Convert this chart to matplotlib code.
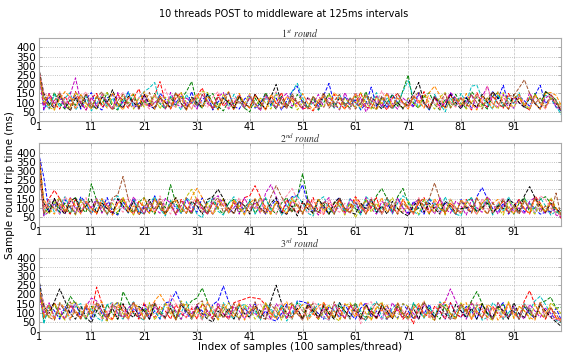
import matplotlib.pyplot as plt

plt.rcParams['mathtext.fontset'] = 'stix'

samples = list(range(1, 101))
threads = ['t0', 't1', 't2', 't3', 't4', 't5', 't6', 't7', 't8', 't9']
colors = ['#0000ff', '#008000', '#ff0000', '#00bfbf', '#bf00bf',
          '#bfbf00', '#000000', '#ff88aa', '#ff8800', '#a0522d']
round_titles = [r'$1^{st}\ round$', r'$2^{nd}\ round$', r'$3^{rd}\ round$']
y_ticks = [0, 50, 100, 150, 200, 250, 300, 350, 400]
x_ticks = [1, 11, 21, 31, 41, 51, 61, 71, 81, 91]

# ---- round 1 (ms) ----
r1_t0 = [300, 60, 130, 75, 150, 70, 110, 140, 65, 120,
         155, 80, 60, 125, 145, 75, 105, 160, 70, 95,
         140, 85, 65, 150, 120, 70, 100, 135, 80, 160,
         75, 115, 145, 60, 105, 130, 155, 80, 65, 120,
         140, 70, 95, 150, 85, 125, 60, 110, 160, 190,
         95, 70, 130, 80, 140, 205, 90, 65, 135, 85,
         115, 60, 95, 185, 80, 130, 70, 145, 100, 65,
         125, 80, 155, 95, 60, 135, 105, 75, 150, 110,
         80, 130, 65, 145, 95, 75, 160, 120, 195, 90,
         70, 135, 110, 80, 140, 195, 95, 125, 75, 55]
r1_t1 = [290, 130, 80, 155, 95, 65, 120, 85, 145, 100,
         70, 135, 90, 155, 75, 60, 125, 95, 145, 70,
         110, 80, 150, 95, 65, 130, 85, 120, 160, 215,
         95, 70, 125, 150, 80, 55, 110, 95, 135, 70,
         50, 125, 80, 155, 100, 65, 135, 90, 70, 145,
         110, 75, 125, 60, 100, 150, 80, 130, 95, 70,
         135, 90, 160, 75, 65, 125, 100, 145, 80, 165,
         250, 95, 70, 130, 155, 90, 60, 120, 80, 145,
         95, 70, 160, 125, 90, 65, 135, 155, 80, 100,
         125, 145, 75, 65, 150, 95, 160, 140, 115, 45]
r1_t2 = [305, 85, 150, 95, 65, 135, 80, 160, 100, 60,
         125, 150, 75, 105, 65, 145, 110, 70, 125, 175,
         95, 80, 140, 215, 100, 65, 125, 155, 75, 100,
         135, 180, 95, 70, 145, 80, 115, 60, 130, 95,
         70, 145, 100, 60, 135, 95, 155, 75, 125, 100,
         65, 75, 55, 100, 130, 80, 145, 95, 65, 125,
         100, 155, 75, 70, 135, 95, 60, 125, 150, 100,
         80, 135, 95, 160, 75, 130, 65, 100, 145, 80,
         125, 95, 60, 155, 100, 75, 135, 95, 70, 150,
         100, 125, 80, 60, 145, 95, 70, 125, 95, 75]
r1_t3 = [280, 100, 65, 145, 75, 125, 155, 60, 100, 135,
         55, 95, 145, 75, 125, 65, 100, 155, 80, 125,
         160, 180, 210, 95, 70, 135, 100, 60, 145, 95,
         125, 75, 155, 95, 65, 130, 80, 145, 100, 70,
         135, 95, 60, 125, 80, 155, 100, 70, 160, 205,
         125, 75, 100, 60, 135, 95, 70, 145, 80, 125,
         100, 65, 135, 95, 155, 75, 125, 65, 100, 160,
         220, 125, 75, 100, 60, 145, 95, 50, 125, 80,
         150, 100, 190, 195, 125, 95, 65, 145, 80, 125,
         95, 155, 75, 130, 100, 65, 140, 125, 80, 35]
r1_t4 = [270, 65, 150, 95, 125, 75, 145, 235, 100, 60,
         130, 80, 145, 95, 65, 155, 75, 125, 100, 65,
         140, 75, 100, 130, 65, 155, 95, 75, 125, 100,
         65, 145, 95, 75, 130, 155, 65, 100, 145, 75,
         125, 95, 55, 135, 100, 70, 125, 150, 80, 100,
         65, 130, 95, 145, 75, 125, 100, 60, 155, 95,
         75, 130, 50, 100, 135, 75, 155, 95, 65, 125,
         100, 75, 145, 95, 65, 130, 80, 100, 155, 125,
         75, 100, 145, 65, 130, 190, 95, 75, 145, 65,
         130, 100, 75, 155, 95, 65, 125, 145, 75, 65]
r1_t5 = [260, 125, 75, 60, 145, 100, 70, 155, 125, 75,
         100, 65, 130, 155, 95, 75, 145, 100, 65, 125,
         75, 100, 145, 65, 130, 95, 75, 155, 100, 65,
         125, 160, 155, 95, 75, 145, 100, 65, 130, 95,
         150, 75, 125, 100, 65, 145, 95, 75, 125, 60,
         100, 70, 135, 95, 75, 145, 100, 65, 125, 95,
         75, 155, 100, 65, 130, 95, 145, 75, 100, 65,
         125, 95, 75, 145, 100, 65, 130, 155, 75, 100,
         125, 65, 100, 145, 75, 130, 95, 65, 155, 100,
         75, 125, 95, 65, 145, 100, 75, 125, 95, 85]
r1_t6 = [295, 150, 95, 70, 135, 100, 55, 125, 75, 145,
         95, 65, 130, 100, 170, 95, 70, 135, 100, 75,
         145, 95, 65, 125, 100, 75, 155, 95, 65, 130,
         100, 75, 145, 95, 65, 125, 100, 70, 135, 95,
         75, 145, 100, 65, 130, 200, 95, 70, 135, 100,
         75, 125, 95, 65, 145, 100, 75, 125, 95, 65,
         155, 100, 75, 130, 95, 65, 100, 75, 100, 70,
         95, 150, 210, 100, 65, 130, 95, 75, 145, 100,
         65, 125, 95, 75, 145, 100, 160, 125, 95, 65,
         145, 100, 75, 125, 95, 65, 160, 140, 95, 60]
r1_t7 = [285, 155, 125, 75, 160, 95, 140, 65, 125, 160,
         95, 75, 145, 100, 65, 125, 155, 95, 75, 130,
         100, 65, 145, 100, 175, 95, 75, 125, 100, 65,
         145, 95, 75, 130, 160, 95, 65, 125, 100, 75,
         145, 95, 65, 130, 100, 160, 95, 70, 135, 100,
         75, 125, 95, 65, 145, 100, 75, 130, 95, 65,
         155, 100, 75, 125, 95, 165, 100, 75, 130, 95,
         65, 145, 100, 75, 125, 95, 65, 145, 100, 75,
         130, 95, 65, 145, 100, 190, 95, 75, 125, 100,
         65, 145, 95, 75, 130, 100, 65, 145, 95, 70]
r1_t8 = [275, 100, 145, 60, 120, 160, 130, 70, 145, 95,
         65, 135, 110, 70, 155, 95, 60, 125, 150, 80,
         160, 110, 65, 135, 95, 70, 150, 125, 60, 110,
         145, 75, 135, 100, 60, 125, 160, 80, 150, 95,
         70, 135, 110, 60, 145, 100, 70, 135, 110, 80,
         150, 95, 60, 115, 135, 80, 155, 125, 65, 100,
         145, 70, 135, 95, 60, 115, 150, 80, 125, 100,
         65, 135, 110, 70, 155, 190, 140, 65, 110, 125,
         80, 150, 95, 60, 135, 110, 70, 160, 100, 65,
         125, 145, 80, 135, 95, 65, 150, 155, 140, 85]
r1_t9 = [265, 135, 70, 110, 155, 80, 60, 135, 95, 150,
         70, 125, 160, 95, 60, 110, 145, 80, 125, 65,
         100, 155, 75, 135, 70, 110, 150, 95, 60, 125,
         80, 145, 110, 65, 130, 95, 155, 80, 110, 70,
         135, 95, 65, 145, 110, 75, 125, 70, 150, 100,
         110, 65, 135, 95, 155, 70, 110, 145, 80, 125,
         65, 100, 145, 110, 70, 135, 95, 65, 150, 100,
         80, 125, 160, 95, 65, 135, 100, 150, 70, 110,
         125, 80, 145, 100, 65, 125, 155, 95, 75, 135,
         140, 180, 225, 150, 95, 125, 80, 145, 110, 55]

# ---- round 2 (ms) ----
r2_t0 = [400, 265, 75, 125, 65, 145, 100, 75, 160, 125,
         65, 145, 95, 155, 75, 60, 130, 95, 150, 70,
         110, 80, 165, 95, 65, 135, 100, 70, 145, 110,
         75, 155, 95, 65, 125, 145, 70, 100, 135, 75,
         125, 95, 155, 65, 110, 145, 75, 125, 160, 165,
         225, 125, 75, 145, 95, 65, 130, 155, 75, 100,
         135, 70, 110, 145, 95, 65, 125, 75, 155, 100,
         70, 135, 95, 65, 145, 110, 75, 125, 95, 65,
         145, 100, 75, 160, 210, 150, 95, 75, 125, 65,
         100, 145, 75, 125, 95, 65, 75, 80, 95, 70]
r2_t1 = [380, 65, 100, 145, 75, 125, 65, 155, 95, 75,
         230, 140, 75, 125, 95, 65, 145, 100, 75, 130,
         155, 95, 65, 135, 100, 225, 125, 75, 100, 65,
         145, 110, 75, 155, 95, 65, 125, 145, 75, 100,
         135, 70, 110, 150, 95, 65, 125, 155, 75, 160,
         285, 145, 95, 75, 125, 65, 100, 145, 75, 125,
         95, 65, 145, 100, 165, 205, 150, 75, 160, 205,
         125, 75, 100, 145, 65, 125, 95, 75, 145, 100,
         65, 125, 155, 75, 100, 135, 70, 110, 145, 95,
         65, 125, 155, 75, 100, 145, 160, 125, 75, 85]
r2_t2 = [420, 95, 150, 195, 150, 95, 65, 145, 75, 125,
         100, 65, 145, 95, 75, 125, 155, 95, 65, 135,
         100, 70, 150, 95, 75, 125, 65, 145, 100, 75,
         155, 95, 65, 125, 100, 145, 75, 125, 95, 155,
         165, 220, 160, 95, 75, 125, 65, 145, 100, 75,
         125, 95, 155, 75, 65, 125, 100, 145, 75, 100,
         160, 125, 75, 100, 155, 65, 125, 95, 75, 145,
         100, 65, 125, 155, 75, 100, 145, 65, 125, 95,
         75, 145, 100, 65, 125, 155, 75, 100, 135, 70,
         110, 145, 95, 65, 165, 125, 75, 145, 95, 40]
r2_t3 = [370, 60, 140, 75, 110, 160, 95, 65, 150, 125,
         70, 100, 150, 60, 135, 165, 110, 70, 145, 80,
         65, 125, 160, 95, 55, 140, 110, 70, 155, 125,
         65, 45, 130, 150, 80, 60, 125, 160, 95, 70,
         145, 65, 110, 155, 80, 135, 60, 100, 150, 165,
         125, 70, 55, 140, 160, 95, 65, 125, 80, 150,
         110, 60, 160, 135, 70, 100, 155, 65, 125, 165,
         140, 80, 60, 110, 150, 125, 70, 160, 95, 65,
         55, 135, 155, 80, 110, 145, 60, 125, 80, 160,
         95, 65, 145, 125, 70, 155, 110, 60, 80, 60]
r2_t4 = [350, 55, 80, 145, 110, 65, 155, 95, 70, 135,
         100, 150, 70, 125, 60, 145, 100, 75, 160, 110,
         65, 135, 95, 70, 150, 125, 60, 110, 155, 75,
         135, 95, 65, 145, 165, 110, 75, 135, 65, 155,
         95, 125, 70, 180, 225, 160, 95, 65, 135, 110,
         70, 145, 100, 60, 125, 155, 75, 110, 65, 145,
         125, 75, 155, 95, 65, 135, 110, 70, 150, 100,
         60, 125, 145, 75, 110, 65, 155, 95, 70, 135,
         110, 60, 145, 100, 75, 160, 125, 65, 110, 145,
         75, 100, 65, 135, 155, 95, 70, 125, 60, 50]
r2_t5 = [330, 95, 65, 125, 155, 75, 110, 60, 135, 100,
         70, 145, 110, 65, 125, 75, 155, 95, 60, 135,
         110, 70, 145, 100, 65, 125, 155, 75, 160, 200,
         140, 75, 125, 65, 100, 150, 70, 135, 110, 60,
         125, 95, 160, 75, 65, 135, 100, 70, 145, 110,
         75, 125, 65, 150, 95, 70, 135, 110, 60, 125,
         45, 100, 145, 75, 125, 65, 110, 155, 95, 70,
         135, 100, 65, 145, 110, 75, 125, 60, 150, 95,
         70, 135, 110, 65, 125, 155, 75, 100, 60, 135,
         110, 70, 145, 95, 65, 125, 75, 155, 100, 60]
r2_t6 = [410, 125, 75, 150, 95, 65, 135, 155, 75, 110,
         145, 70, 125, 95, 65, 150, 110, 75, 135, 60,
         100, 145, 75, 125, 65, 110, 155, 95, 70, 135,
         110, 65, 145, 160, 200, 150, 95, 70, 135, 110,
         65, 145, 95, 75, 125, 155, 75, 65, 110, 55,
         135, 95, 70, 145, 110, 65, 125, 155, 95, 75,
         65, 125, 95, 145, 75, 110, 65, 135, 95, 70,
         55, 110, 145, 75, 125, 95, 65, 135, 110, 75,
         95, 100, 110, 80, 100, 125, 70, 110, 95, 145,
         125, 75, 165, 215, 155, 110, 75, 125, 95, 65]
r2_t7 = [360, 75, 145, 95, 65, 160, 125, 75, 110, 155,
         70, 135, 95, 65, 145, 110, 75, 155, 125, 65,
         100, 135, 75, 165, 110, 65, 145, 95, 75, 125,
         155, 75, 110, 65, 145, 125, 75, 100, 155, 65,
         125, 95, 145, 75, 110, 65, 135, 165, 205, 145,
         95, 70, 135, 110, 65, 150, 95, 75, 125, 65,
         145, 110, 75, 155, 95, 65, 125, 100, 145, 75,
         110, 65, 155, 95, 75, 135, 65, 110, 145, 95,
         70, 135, 110, 65, 150, 95, 75, 125, 155, 75,
         100, 65, 135, 110, 75, 165, 145, 95, 70, 55]
r2_t8 = [390, 145, 95, 65, 125, 75, 155, 110, 65, 135,
         95, 70, 150, 110, 60, 125, 145, 75, 110, 65,
         155, 95, 75, 135, 65, 110, 145, 95, 70, 160,
         205, 155, 95, 65, 135, 110, 75, 145, 95, 65,
         125, 150, 75, 110, 65, 135, 95, 70, 155, 110,
         65, 125, 95, 145, 75, 110, 65, 135, 95, 75,
         150, 110, 65, 125, 95, 155, 75, 110, 65, 145,
         95, 70, 135, 110, 65, 150, 95, 75, 125, 65,
         145, 110, 75, 155, 95, 65, 125, 145, 75, 110,
         65, 135, 95, 70, 145, 110, 75, 125, 95, 65]
r2_t9 = [340, 65, 125, 95, 150, 75, 110, 65, 145, 95,
         75, 135, 110, 65, 155, 170, 270, 145, 75, 110,
         65, 125, 95, 150, 75, 110, 65, 135, 95, 70,
         145, 110, 65, 125, 155, 75, 100, 65, 135, 110,
         75, 145, 95, 65, 160, 220, 160, 110, 75, 125,
         65, 145, 95, 75, 135, 110, 65, 150, 95, 70,
         125, 110, 65, 145, 95, 75, 155, 110, 65, 125,
         95, 75, 145, 110, 150, 235, 145, 75, 110, 65,
         135, 95, 70, 150, 110, 65, 125, 95, 145, 75,
         110, 65, 135, 95, 155, 75, 110, 70, 180, 45]

# ---- round 3 (ms) ----
r3_t0 = [300, 75, 145, 110, 65, 135, 95, 155, 75, 125,
         65, 145, 95, 75, 135, 155, 110, 65, 125, 95,
         145, 75, 110, 65, 155, 160, 215, 150, 95, 65,
         135, 110, 75, 145, 165, 245, 160, 95, 65, 125,
         95, 150, 75, 110, 65, 55, 95, 145, 75, 165,
         160, 150, 125, 95, 65, 135, 110, 75, 145, 95,
         65, 125, 155, 75, 110, 65, 135, 95, 70, 150,
         110, 65, 125, 95, 145, 75, 110, 65, 155, 95,
         75, 135, 110, 65, 145, 95, 75, 125, 155, 75,
         110, 65, 135, 95, 70, 150, 110, 75, 125, 60]
r3_t1 = [280, 50, 125, 150, 75, 110, 190, 150, 95, 65,
         135, 110, 75, 145, 95, 65, 215, 160, 95, 75,
         125, 65, 145, 110, 75, 155, 95, 65, 125, 165,
         180, 235, 160, 95, 75, 135, 65, 110, 145, 95,
         75, 125, 65, 150, 110, 75, 135, 95, 65, 155,
         110, 75, 125, 65, 145, 95, 75, 135, 110, 65,
         155, 95, 75, 125, 65, 145, 110, 75, 135, 95,
         65, 150, 110, 75, 125, 95, 65, 145, 95, 75,
         135, 110, 165, 215, 150, 95, 65, 125, 145, 75,
         110, 65, 135, 95, 75, 155, 165, 185, 125, 130]
r3_t2 = [250, 75, 110, 155, 95, 65, 135, 110, 75, 145,
         95, 240, 150, 95, 65, 125, 145, 75, 110, 65,
         155, 95, 75, 135, 110, 65, 145, 95, 75, 125,
         65, 150, 110, 75, 135, 95, 65, 155, 165, 175,
         185, 180, 175, 140, 95, 75, 125, 65, 145, 110,
         75, 135, 95, 65, 155, 110, 75, 125, 65, 145,
         95, 75, 135, 110, 65, 150, 95, 75, 125, 65,
         100, 40, 145, 95, 75, 135, 110, 65, 155, 95,
         75, 125, 65, 145, 110, 75, 135, 95, 65, 155,
         95, 75, 165, 220, 145, 95, 65, 125, 75, 65]
r3_t3 = [260, 40, 145, 75, 155, 110, 60, 135, 150, 70,
         125, 75, 55, 145, 155, 95, 65, 125, 160, 75,
         60, 145, 110, 70, 150, 135, 65, 100, 160, 75,
         125, 60, 150, 110, 70, 155, 95, 65, 135, 145,
         75, 110, 60, 150, 125, 70, 145, 55, 100, 160,
         135, 65, 110, 150, 75, 60, 125, 155, 95, 70,
         145, 110, 55, 135, 160, 75, 65, 125, 150, 95,
         60, 155, 110, 70, 135, 75, 160, 125, 65, 100,
         150, 70, 110, 145, 60, 75, 155, 125, 65, 100,
         135, 70, 150, 110, 165, 190, 145, 95, 60, 45]
r3_t4 = [200, 95, 155, 75, 125, 65, 145, 95, 75, 135,
         180, 165, 110, 65, 145, 95, 75, 125, 155, 75,
         110, 65, 135, 95, 75, 150, 110, 65, 125, 95,
         145, 75, 110, 65, 155, 95, 75, 135, 110, 65,
         145, 95, 75, 125, 65, 150, 110, 75, 135, 95,
         65, 155, 110, 75, 125, 65, 145, 95, 75, 135,
         110, 65, 150, 95, 75, 125, 65, 155, 110, 75,
         135, 95, 65, 145, 110, 75, 125, 160, 230, 165,
         110, 65, 150, 95, 75, 125, 65, 155, 110, 75,
         135, 95, 65, 145, 110, 75, 125, 95, 65, 55]
r3_t5 = [220, 135, 70, 150, 95, 60, 145, 160, 110, 70,
         125, 150, 75, 55, 135, 160, 95, 65, 145, 125,
         75, 155, 60, 110, 145, 95, 70, 165, 125, 65,
         100, 150, 75, 135, 60, 110, 155, 95, 70, 145,
         125, 65, 100, 155, 75, 135, 60, 110, 150, 95,
         70, 160, 125, 65, 100, 145, 75, 55, 135, 155,
         110, 70, 145, 60, 125, 160, 75, 100, 65, 150,
         135, 70, 110, 165, 75, 60, 145, 125, 95, 65,
         155, 110, 70, 135, 150, 75, 60, 125, 95, 160,
         70, 135, 110, 65, 145, 95, 75, 155, 125, 95]
r3_t6 = [290, 140, 95, 160, 230, 165, 95, 65, 135, 75,
         45, 110, 145, 75, 125, 65, 150, 95, 75, 135,
         110, 65, 155, 95, 75, 125, 65, 145, 110, 75,
         135, 95, 65, 50, 110, 75, 125, 65, 145, 95,
         75, 135, 110, 65, 165, 250, 155, 95, 75, 125,
         65, 145, 110, 75, 135, 95, 65, 155, 110, 75,
         125, 65, 145, 95, 75, 135, 110, 65, 150, 95,
         75, 125, 65, 155, 110, 75, 135, 95, 65, 145,
         110, 75, 125, 65, 150, 95, 75, 135, 110, 65,
         155, 95, 75, 125, 65, 145, 110, 75, 50, 25]
r3_t7 = [240, 155, 95, 70, 145, 125, 60, 150, 110, 75,
         160, 135, 65, 100, 155, 75, 125, 60, 145, 110,
         70, 135, 160, 95, 65, 195, 150, 110, 70, 135,
         95, 60, 155, 125, 75, 145, 65, 110, 160, 95,
         70, 135, 150, 75, 60, 125, 155, 95, 65, 145,
         110, 70, 160, 135, 75, 60, 150, 110, 95, 70,
         135, 40, 145, 160, 95, 65, 125, 75, 150, 110,
         60, 135, 95, 160, 70, 125, 150, 75, 65, 110,
         145, 95, 70, 155, 125, 60, 135, 110, 75, 150,
         95, 65, 145, 125, 70, 160, 95, 75, 60, 70]
r3_t8 = [270, 75, 145, 60, 155, 125, 70, 110, 65, 150,
         95, 135, 160, 75, 60, 145, 110, 70, 155, 125,
         65, 100, 165, 200, 155, 110, 60, 135, 150, 75,
         125, 70, 160, 95, 65, 145, 110, 75, 155, 60,
         110, 135, 70, 150, 95, 65, 125, 160, 75, 110,
         145, 60, 95, 135, 155, 70, 110, 65, 150, 125,
         75, 160, 95, 60, 135, 110, 145, 70, 155, 95,
         65, 125, 150, 75, 110, 60, 145, 160, 95, 70,
         135, 155, 65, 110, 75, 145, 125, 60, 95, 150,
         70, 135, 110, 75, 60, 155, 95, 135, 70, 60]
r3_t9 = [230, 125, 75, 60, 150, 110, 160, 95, 65, 135,
         75, 155, 110, 60, 145, 125, 70, 100, 160, 75,
         65, 135, 150, 95, 70, 125, 60, 155, 110, 75,
         145, 165, 95, 65, 135, 70, 110, 150, 60, 125,
         95, 160, 75, 65, 145, 110, 70, 135, 155, 95,
         60, 125, 150, 75, 110, 65, 160, 95, 70, 135,
         145, 75, 60, 110, 155, 125, 65, 95, 150, 75,
         135, 70, 110, 160, 95, 60, 145, 125, 75, 65,
         150, 95, 160, 110, 70, 135, 60, 155, 95, 75,
         125, 65, 145, 110, 75, 155, 70, 125, 95, 45]

round1 = [r1_t0, r1_t1, r1_t2, r1_t3, r1_t4, r1_t5, r1_t6, r1_t7, r1_t8, r1_t9]
round2 = [r2_t0, r2_t1, r2_t2, r2_t3, r2_t4, r2_t5, r2_t6, r2_t7, r2_t8, r2_t9]
round3 = [r3_t0, r3_t1, r3_t2, r3_t3, r3_t4, r3_t5, r3_t6, r3_t7, r3_t8, r3_t9]
rounds = [round1, round2, round3]

fig, axes = plt.subplots(3, 1, figsize=(5.67, 3.58), dpi=100)
fig.subplots_adjust(left=0.068, right=0.99, top=0.893, bottom=0.075, hspace=0.27)
fig.suptitle('10 threads POST to middleware at 125ms intervals', fontsize=7, y=0.975)

for ax, data, title in zip(axes, rounds, round_titles):
    for series, name, c in zip(data, threads, colors):
        ax.plot(samples, series, linestyle='--', color=c, linewidth=0.7, label=name)
    ax.set_xlim(1, 100)
    ax.set_ylim(0, 450)
    ax.set_yticks(y_ticks)
    ax.set_xticks(x_ticks)
    ax.tick_params(labelsize=7.5, direction='in', top=True, right=True,
                   length=2.5, width=0.5, color='#999999')
    ax.tick_params(axis='x', pad=0.5, labelsize=7)
    ax.tick_params(axis='y', pad=2)
    ax.xaxis.grid(True, linestyle='--', color='#c0c0c0', linewidth=0.5)
    ax.yaxis.grid(True, linestyle=':', color='#b0b0b0', linewidth=0.6)
    for s in ax.spines.values():
        s.set_color('#aaaaaa')
        s.set_linewidth(0.8)
    ax.set_title(title, fontsize=7, pad=0.5, color='#333333')

axes[1].set_ylabel('Sample round trip time (ms)', fontsize=7.5, labelpad=1)
axes[2].set_xlabel('Index of samples (100 samples/thread)', fontsize=7.5, labelpad=0)

plt.savefig('out.png', dpi=100)
plt.close()
